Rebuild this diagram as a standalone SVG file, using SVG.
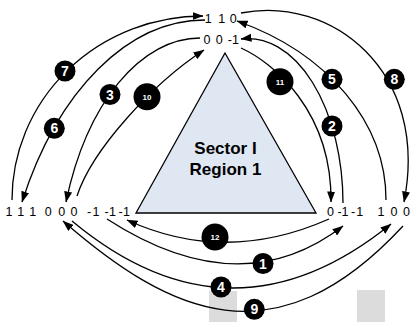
<svg xmlns="http://www.w3.org/2000/svg" width="412" height="322" viewBox="0 0 412 322">
<style>
  .lbl { font-family: "Liberation Sans", Arial, sans-serif; font-size: 12.5px; fill: #000; text-anchor: middle; }
  .title { font-family: "Liberation Sans", Arial, sans-serif; font-size: 17px; font-weight: bold; fill: #000; text-anchor: middle; }
  .edge { fill: none; stroke: #000; stroke-width: 1.3; marker-end: url(#arr); }
  .badge circle { fill: #000; }
  .badge text { font-family: "Liberation Sans", Arial, sans-serif; font-weight: bold; fill: #fff; text-anchor: middle; }
  .big { font-size: 14px; }
  .small { font-size: 8px; }
  .bg { fill: #dcdcdc; }
</style>
<defs>
  <marker id="arr" viewBox="0 0 11 8" refX="10.5" refY="4" markerWidth="11" markerHeight="8" markerUnits="userSpaceOnUse" orient="auto">
    <path d="M0,0 L11,4 L0,8 Z" fill="#000"/>
  </marker>
</defs>
<rect width="412" height="322" fill="#fff"/>
<rect class="bg" x="209" y="291" width="28" height="31"/>
<rect class="bg" x="357" y="290" width="28" height="32"/>

<g id="sector">
  <polygon points="225,53 136,213 316,213" fill="#dfe7f3" stroke="#000" stroke-width="1.3"/>
  <text class="title" x="225.5" y="154">Sector I</text>
  <text class="title" x="225.5" y="175">Region 1</text>
</g>

<g id="connectors">
  <path class="edge" d="M107,219 Q240,305 343,226"/>
  <path class="edge" d="M343,203 A95,165 0 0 0 241,39"/>
  <path class="edge" d="M200,38 A143,250 0 0 0 66,202"/>
  <path class="edge" d="M72,221 Q231,353.5 391,224"/>
  <path class="edge" d="M386,200 A256,197 0 0 0 237,21"/>
  <path class="edge" d="M205,20 A207,342 0 0 0 22,202"/>
  <path class="edge" d="M12,200 A191,184 0 0 1 203,16"/>
  <path class="edge" d="M241,13 C330,-5 430,70 404,202"/>
  <path class="edge" d="M403,226 C275,364 170,314 63,221"/>
  <path class="edge" d="M77,196 C92,150 152,84 204,50"/>
  <path class="edge" d="M241,48 C272,62 332,110 331,202"/>
  <path class="edge" d="M329,219 Q225,265 127,220"/>
</g>

<g id="v110"><text class="lbl" x="208.3 215 221.7 227.5 233.3" y="22.5">1 1 0</text></g>
<g id="v00m1"><text class="lbl" x="207 213 219.2 224.5 229.8 235.5" y="44">0 0 -1</text></g>
<g id="v111-000"><text class="lbl" x="9 14.8 20.7 26.7 32.7 40.5 48.3 55 61.7 67.8 74" y="216">1 1 1 0 0 0</text></g>
<g id="vm1m1m1"><text class="lbl" x="89 96 101 106.5 112.5 116.5 120.5 126.5" y="216">-1 -1 -1</text></g>
<g id="v0m1m1"><text class="lbl" x="330.5 335 339.7 345 349 353 359.7" y="216">0 -1 -1</text></g>
<g id="v100"><text class="lbl" x="381 387.5 394 400 406.5" y="216">1 0 0</text></g>

<g id="badges" class="badge">
  <g id="b1"><circle cx="263" cy="263.5" r="10.5"/><text class="big" x="263" y="268.5">1</text></g>
  <g id="b2"><circle cx="332" cy="126" r="10.5"/><text class="big" x="332" y="131">2</text></g>
  <g id="b3"><circle cx="110" cy="94.5" r="10.5"/><text class="big" x="110" y="99.5">3</text></g>
  <g id="b4"><circle cx="221" cy="287" r="10.5"/><text class="big" x="221" y="292">4</text></g>
  <g id="b5"><circle cx="332" cy="79.3" r="10.5"/><text class="big" x="332" y="84.3">5</text></g>
  <g id="b6"><circle cx="54.3" cy="128.3" r="10.5"/><text class="big" x="54.3" y="133.3">6</text></g>
  <g id="b7"><circle cx="65" cy="71" r="10.5"/><text class="big" x="65" y="76">7</text></g>
  <g id="b8"><circle cx="394.3" cy="79.3" r="10.5"/><text class="big" x="394.3" y="84.3">8</text></g>
  <g id="b9"><circle cx="254.3" cy="309.3" r="10.5"/><text class="big" x="254.3" y="314.3">9</text></g>
  <g id="b10"><circle cx="147" cy="96.7" r="13.5"/><text class="small" x="147" y="99.6">10</text></g>
  <g id="b11"><circle cx="280" cy="81.7" r="13.5"/><text class="small" x="280" y="84.6">11</text></g>
  <g id="b12"><circle cx="215" cy="237" r="13.5"/><text class="small" x="215" y="239.9">12</text></g>
</g>
</svg>
